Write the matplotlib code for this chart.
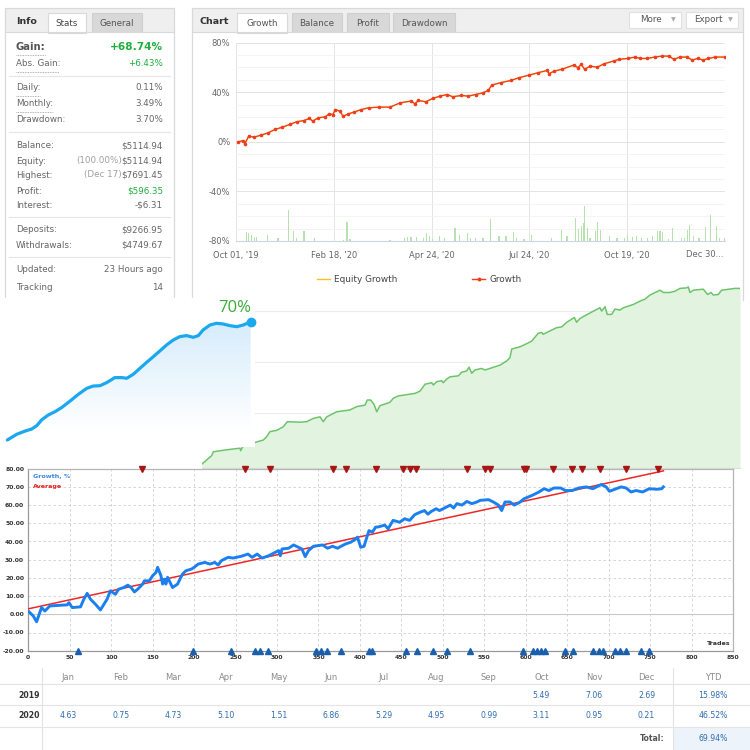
import numpy as np
import matplotlib
matplotlib.use("Agg")
import matplotlib.pyplot as plt
from matplotlib.patches import Rectangle, Polygon
from matplotlib.lines import Line2D
from matplotlib.ticker import FuncFormatter, MultipleLocator

# ---------------- data ----------------
info_labels = ["Gain:", "Abs. Gain:", "Daily:", "Monthly:", "Drawdown:", "Balance:", "Equity:",
               "Highest:", "Profit:", "Interest:", "Deposits:", "Withdrawals:", "Updated:", "Tracking"]
info_values = ["+68.74%", "+6.43%", "0.11%", "3.49%", "3.70%", "$5114.94", "$5114.94",
               "$7691.45", "$596.35", "-$6.31", "$9266.95", "$4749.67", "23 Hours ago", "14"]
info_notes = {"Equity:": "(100.00%)", "Highest:": "(Dec 17)"}
info_green = ["Gain:", "Abs. Gain:", "Profit:"]

chart_tabs = ["Growth", "Balance", "Profit", "Drawdown"]
date_labels = ["Oct 01, '19", "Feb 18, '20", "Apr 24, '20", "Jul 24, '20", "Oct 19, '20", "Dec 30..."]

# top chart growth series: position (fraction of the date axis) and growth %
growth_frac = [0.004, 0.015, 0.018, 0.026, 0.037, 0.051, 0.066, 0.08, 0.095, 0.11, 0.124, 0.139, 0.15,
               0.157, 0.168, 0.183, 0.19, 0.198, 0.203, 0.212, 0.219, 0.23, 0.241, 0.256, 0.271, 0.293,
               0.315, 0.336, 0.358, 0.366, 0.373, 0.388, 0.402, 0.417, 0.432, 0.443, 0.461, 0.475, 0.49,
               0.505, 0.516, 0.523, 0.541, 0.563, 0.578, 0.6, 0.618, 0.636, 0.64, 0.651, 0.666, 0.691,
               0.699, 0.706, 0.713, 0.724, 0.739, 0.753, 0.772, 0.783, 0.801, 0.816, 0.827, 0.841, 0.856,
               0.871, 0.885, 0.896, 0.907, 0.922, 0.933, 0.944, 0.955, 0.966, 0.98, 0.999]
growth_vals = [0, 1, -1.6, 4.6, 3.8, 5.4, 7.3, 10, 11.9, 14, 16.2, 17.2, 18.9, 16.7, 19.4, 20.2, 22.6, 22,
               26, 24.8, 20.7, 22.6, 24, 26, 27.5, 28, 28, 31.5, 32.9, 30.7, 33.4, 32.3, 35, 36.9, 38.2,
               36.4, 37.4, 36.9, 38.2, 39.6, 41.5, 45.8, 47.7, 49.6, 51.7, 53.9, 55.8, 57.6, 55, 57.1,
               58.5, 62, 59.8, 62.5, 58.5, 61.1, 60.3, 63, 65.2, 66.5, 67.3, 68.4, 67.3, 67.3, 68.4, 69.2,
               69.2, 66.5, 68.4, 68.4, 66, 67.3, 66, 67.3, 68.4, 68.4]
bar_frac = [0.022, 0.026, 0.031, 0.037, 0.042, 0.064, 0.086, 0.107, 0.117, 0.123, 0.139, 0.161, 0.219,
            0.227, 0.233, 0.315, 0.344, 0.35, 0.358, 0.369, 0.384, 0.389, 0.395, 0.402, 0.417, 0.426,
            0.448, 0.457, 0.474, 0.479, 0.49, 0.505, 0.521, 0.538, 0.552, 0.567, 0.574, 0.589, 0.604,
            0.645, 0.666, 0.677, 0.694, 0.701, 0.706, 0.71, 0.713, 0.718, 0.724, 0.735, 0.74, 0.746,
            0.764, 0.779, 0.794, 0.801, 0.811, 0.819, 0.83, 0.841, 0.852, 0.862, 0.867, 0.872, 0.885,
            0.892, 0.911, 0.918, 0.923, 0.928, 0.936, 0.947, 0.96, 0.971, 0.982, 0.988, 0.999]
bar_vals = [6.9, 6.1, 5.0, 3.3, 3.3, 4.7, 2.8, 25.4, 7.7, 2.8, 8.3, 2.2, 0.8, 15.7, 1.4, 0.6, 2.8, 3.3,
            3.3, 3.3, 2.2, 6.1, 4.1, 1.4, 4.1, 2.2, 10.5, 4.7, 6.6, 2.2, 2.5, 2.8, 17.7, 4.1, 3.9, 7.4,
            2.8, 1.4, 4.7, 2.8, 8.8, 4.1, 18.8, 9.7, 12.4, 14.3, 28.1, 10.5, 2.2, 8.3, 15.4, 8.8, 4.1,
            2.8, 2.8, 5.0, 3.6, 4.1, 2.8, 2.2, 4.1, 7.7, 7.7, 7.4, 1.9, 10.5, 2.2, 2.8, 8.8, 13.2, 4.1,
            2.8, 11.0, 21.2, 12.1, 2.8, 2.2]

# mini blue growth widget
mini_t = [0, 3.9, 7.3, 10.0, 12.1, 14.1, 16.8, 19.6, 22.3, 25.8, 29.2, 32.6, 35.3, 38.1, 40.8, 44.2,
          47.0, 49.1, 51.8, 54.5, 57.3, 60.0, 62.7, 65.5, 68.2, 70.9, 73.7, 76.4, 78.5, 80.5, 83.3,
          86.0, 88.7, 91.5, 94.3, 97.0, 100]
mini_vals = [0, 3.4, 5.3, 6.5, 8.5, 11.9, 14.8, 16.8, 19.2, 23.1, 27.1, 30.6, 32, 32.2, 34, 37, 37,
             36.6, 39, 42.5, 46.1, 49.4, 52.8, 56.4, 59.3, 61.3, 61.9, 60.9, 61.9, 65.3, 68.2, 69.2,
             68.8, 67.8, 67.2, 68.2, 70.2]
mini_label = "70%"

# green area widget
green_days = [0, 8.3, 9.7, 15.4, 26.8, 32.5, 33.1, 34.8, 42.5, 52.4,
              55.3, 58.1, 63.9, 69.5, 72.9, 83.8, 89.5, 95.2, 100.9, 103.7,
              106.6, 115.2, 126.5, 132.2, 139.4, 141.3, 144.2, 147.1, 149.4, 152.2,
              160.7, 163.6, 167.8, 182.1, 186.4, 190.7, 196.4, 197.8, 200.7, 204.9,
              206.3, 209.2, 212, 219.2, 222, 226.3, 228.3, 230.6, 233.4, 239.1,
              242, 246.2, 254.8, 260.5, 263.3, 264.8, 271.9, 276.2, 281.9, 287.5,
              290.4, 291.8, 296.1, 303.3, 307.6, 311.8, 318.4, 320.3, 323.2, 327.5,
              336, 340.3, 341.7, 344.6, 346.5, 350.3, 353.1, 357.4, 360.2, 368.8,
              375.9, 378.8, 383, 391.6, 394.4, 400.1, 404.4, 408.7, 414.4, 415.8,
              417.2, 420.1, 428.6, 432.4, 435.2, 437.2, 441.4, 444.3, 455.7, 460]
green_vals = [0, 3.3, 4.8, 5.2, 5.9, 6.2, 5.2, 6.8, 8.1, 9.4,
              10.7, 12.7, 13.2, 14.6, 16.6, 16.4, 16.6, 17.9, 18.5, 16.6,
              18.5, 20.5, 21.2, 22.5, 23.1, 25.1, 25.1, 23.4, 20.5, 22.9,
              24.2, 25.8, 26.7, 27.7, 28.6, 31.3, 31.9, 31, 32.3, 32.7,
              31.9, 33.3, 34.2, 34.6, 36, 36.5, 38, 35.6, 36.9, 37.5,
              36.9, 37.5, 38.8, 40.4, 41.7, 45.1, 46, 46.9, 48.2, 51.3,
              51.6, 50.9, 51.9, 53.5, 53.8, 55.6, 57.5, 55.6, 57.1, 58.2,
              60.3, 61.3, 60, 61.7, 58.7, 58.7, 60.8, 60.4, 61.3, 62.6,
              64.2, 64.7, 66.3, 68.2, 67.3, 67.3, 67.8, 68.9, 69.1, 69.5,
              67.3, 68.2, 68.6, 66.5, 67.3, 66.3, 66.5, 68.2, 68.9, 68.9]

# trades chart
trade_no = [1, 6, 10, 16, 20, 26, 47, 49, 53, 63, 67, 71, 75, 81, 87, 95, 99, 105, 109, 115, 120, 124,
            128, 132, 138, 140, 146, 150, 154, 156, 160, 162, 164, 166, 168, 170, 174, 180, 186, 190,
            197, 200, 205, 213, 219, 225, 229, 233, 241, 247, 257, 265, 270, 276, 282, 290, 298, 302,
            304, 306, 314, 320, 326, 330, 334, 338, 344, 355, 361, 367, 373, 379, 383, 389, 395, 397,
            401, 405, 409, 411, 415, 419, 422, 430, 434, 440, 448, 454, 460, 466, 472, 478, 482, 486,
            492, 496, 502, 509, 513, 517, 523, 529, 535, 541, 545, 555, 561, 567, 571, 575, 581, 586,
            592, 598, 608, 616, 622, 628, 634, 642, 648, 656, 664, 673, 681, 691, 697, 701, 709, 715,
            721, 727, 733, 741, 749, 758, 764, 766]
trade_growth = [1.3, -0.9, -4.1, 3.7, 1.8, 4.6, 5.2, 6.4, 3.7, 4.1, 8.3, 11.5, 8.3, 5.5, 2.4, 8.3, 12.9,
                11, 13.8, 14.7, 16, 14.7, 12.3, 13.8, 16.6, 18.4, 18.4, 21.2, 23, 25.8, 21.2, 16.6,
                19.3, 16.6, 20.3, 18.4, 14.7, 16.6, 22.1, 23.9, 24.9, 25.8, 27.6, 28.5, 27.6, 28.5,
                27.1, 29.5, 31.3, 30.9, 31.9, 33.1, 31.3, 33.1, 30.9, 32.2, 34.1, 35, 32.2, 35.9, 36.3,
                38.1, 36.8, 35.9, 31.7, 35, 37.4, 38.1, 36.3, 37.4, 36.3, 37.8, 38.7, 39.6, 41.4, 42.4,
                36.8, 37.4, 43.3, 46, 45.1, 47.9, 48, 49, 47, 51.6, 50.6, 52.5, 51.6, 54.7, 56, 57, 55,
                56.5, 58, 57, 58.4, 60, 58.4, 60.8, 60, 62, 60.8, 61.7, 62.6, 63, 61.7, 60, 57, 61.7,
                61.7, 60, 61.3, 63.5, 65.4, 67.2, 69, 68, 69.4, 69.4, 68, 68, 69.4, 70, 69, 71.3, 70,
                67.6, 69, 70, 69.4, 67.2, 68, 67.2, 69, 68.7, 69, 70]
average_trades = [0, 766]
average_vals = [3.0, 78.8]
sell_marks = [137, 261, 292, 368, 383, 419, 452, 460, 468, 529, 551, 557, 598, 600, 633, 656, 668,
              690, 721, 759]
buy_marks = [60, 199, 244, 273, 280, 289, 347, 353, 360, 377, 411, 414, 456, 469, 488, 505, 533, 597,
             609, 614, 619, 623, 647, 657, 681, 688, 693, 708, 714, 721, 739, 749]

# monthly table
months = ["Jan", "Feb", "Mar", "Apr", "May", "Jun", "Jul", "Aug", "Sep", "Oct", "Nov", "Dec"]
ret_2019 = [None] * 9 + [5.49, 7.06, 2.69]
ret_2020 = [4.63, 0.75, 4.73, 5.10, 1.51, 6.86, 5.29, 4.95, 0.99, 3.11, 0.95, 0.21]
ytd = {"2019": 15.98, "2020": 46.52}
total = 69.94

# ---------------- helpers ----------------
W = H = 750
plt.rcParams["font.family"] = ["DejaVu Sans"]
fig = plt.figure(figsize=(7.5, 7.5), dpi=100)
fig.patch.set_facecolor("white")


def T(x, y, s, **kw):
    kw.setdefault("va", "center")
    kw.setdefault("zorder", 3)
    return fig.text(x / W, 1 - y / H, s, **kw)


def R(x0, y0, x1, y1, fc="none", ec="none", lw=0.8, z=1):
    fig.add_artist(Rectangle((x0 / W, 1 - y1 / H), (x1 - x0) / W, (y1 - y0) / H,
                             transform=fig.transFigure, fc=fc, ec=ec, lw=lw, zorder=z))


def L(xs, ys, color, lw=0.8, z=2, ls="-"):
    fig.add_artist(Line2D([x / W for x in xs], [1 - y / H for y in ys], color=color, lw=lw,
                          zorder=z, ls=ls, transform=fig.transFigure))


def AX(x0, y0, x1, y1, z):
    return fig.add_axes([x0 / W, 1 - y1 / H, (x1 - x0) / W, (y1 - y0) / H], zorder=z)


BORDER = "#d9d9d9"
GRAY = "#666666"
GREEN = "#1fae3c"
FS = 6.3

# ---------------- info panel ----------------
R(5, 8, 174, 32, fc="#efefef", z=1)
L([5, 5, 174, 174], [300, 8, 8, 300], BORDER, lw=0.9, z=2)
L([5, 174], [32, 32], BORDER, z=2)
R(48, 13, 86, 32.5, fc="white", ec=BORDER, z=1.5)
R(92, 13, 142, 32, fc="#d8d8d8", ec="#cfcfcf", z=1.5)
T(16, 21, "Info", fontsize=6.8, fontweight="bold", color="#333333")
T(67, 23, "Stats", fontsize=FS, color="#444444", ha="center")
T(117, 23, "General", fontsize=FS, color="#555555", ha="center")

row_y = [47.5, 64, 88, 104, 120, 146, 161, 175, 191, 205, 230, 245, 269, 288]
underline = {"Gain:": 46, "Abs. Gain:": 59, "Daily:": 40, "Monthly:": 53}
for lab, val, y in zip(info_labels, info_values, row_y):
    big = lab == "Gain:"
    T(16, y, lab, fontsize=7.2 if big else FS, fontweight="bold" if big else "normal",
      color="#555555" if big else GRAY)
    T(163, y, val, fontsize=7.6 if big else FS, fontweight="bold" if big else "normal",
      color=GREEN if lab in info_green else GRAY, ha="right")
    if lab in info_notes:
        T(122, y, info_notes[lab], fontsize=FS, color="#a0a0a0", ha="right")
    if lab in underline:
        L([16, underline[lab]], [y + 7.5, y + 7.5], "#9a9a9a", lw=0.6, ls=(0, (1, 1)))
for ys in [76, 132, 217, 257]:
    L([9, 170], [ys, ys], "#e6e6e6", lw=0.8)

# ---------------- chart panel ----------------
R(192, 8, 743, 32, fc="#efefef", z=1)
L([192, 192, 743, 743], [300, 8, 8, 300], BORDER, lw=0.9, z=2)
L([192, 743], [32, 32], BORDER, z=2)
T(200, 21, "Chart", fontsize=6.8, fontweight="bold", color="#333333")
tab_x = [(237, 287), (292, 342), (347, 389), (393, 455)]
for (a, b), name in zip(tab_x, chart_tabs):
    if name == "Growth":
        R(a, 13, b, 32.5, fc="white", ec=BORDER, z=1.5)
    else:
        R(a, 13, b, 32, fc="#d8d8d8", ec="#cfcfcf", z=1.5)
    T((a + b) / 2, 23, name, fontsize=FS, color="#555555", ha="center")
for (a, b), name in [((629, 681), "More"), ((686, 738), "Export")]:
    R(a, 12.5, b, 27.5, fc="white", ec="#e0e0e0", z=1.5)
    T(a + 22, 20, name, fontsize=FS, color="#555555", ha="center")
    T(b - 8, 20, "\u25BC", fontsize=4.5, color="#aaaaaa", ha="center")

ax1 = AX(236, 42.7, 725, 241, z=2)
ax1.set_xlim(0, 5)
ax1.set_ylim(-80, 80)
ax1.set_facecolor("white")
for s in ["top", "right", "left"]:
    ax1.spines[s].set_visible(False)
ax1.spines["bottom"].set_color("#c9d8e8")
ax1.set_yticks([-80, -40, 0, 40, 80])
ax1.yaxis.set_minor_locator(MultipleLocator(10))
ax1.yaxis.set_major_formatter(FuncFormatter(lambda v, p: f"{int(v)}%"))
ax1.set_xticks(range(6))
ax1.set_xticklabels(date_labels[:5] + [""])
ax1.tick_params(length=0, labelsize=6, labelcolor="#666666", pad=4)
ax1.tick_params(axis="x", pad=7)
ax1.tick_params(which="minor", length=0)
ax1.grid(True, which="major", color="#e4e4e4", lw=0.7)
ax1.grid(True, which="minor", axis="y", color="#f3f3f3", lw=0.6)
ax1.set_axisbelow(True)
ax1.text(4.98, -87, date_labels[5], ha="right", va="top", fontsize=6, color="#666666")
bpos = [f * 5 for f in bar_frac]
ax1.bar(bpos, bar_vals, bottom=-80, width=0.012, color="#b6e2ad", zorder=2)
gpos = [f * 5 for f in growth_frac]
ax1.plot(gpos, growth_vals, color="#f5c21b", lw=1.0, zorder=3)
ax1.plot(gpos, growth_vals, color="#ef3e1e", lw=0.9, marker="o", ms=1.6, zorder=4)

# legend
L([317, 330], [279, 279], "#f5c21b", lw=1.0, z=3)
T(334, 279, "Equity Growth", fontsize=6.4, color="#444444")
L([472, 485], [279, 279], "#ef3e1e", lw=1.0, z=3)
fig.add_artist(Line2D([478.5 / W], [1 - 279 / H], marker="o", ms=1.8, color="#ef3e1e",
                      transform=fig.transFigure, zorder=3))
T(489, 279, "Growth", fontsize=6.4, color="#444444")

# ---------------- green area widget ----------------
axg = AX(202, 280, 740, 468, z=6)
axg.set_facecolor("none")
axg.set_xlim(0, 460)
axg.set_ylim(-1.57, 72.2)
for s in ["top", "right", "left"]:
    axg.spines[s].set_visible(False)
axg.spines["bottom"].set_color("#dddddd")
axg.set_xticks([])
axg.set_yticks([20, 40, 60])
axg.tick_params(length=0, labelleft=False)
axg.grid(True, axis="y", color="#ececec", lw=0.8)
axg.set_axisbelow(True)
axg.fill_between(green_days, green_vals, -1.57, color="#e2f3df", lw=0, zorder=2)
axg.plot(green_days, green_vals, color="#6cc46a", lw=1.1, zorder=3)

# ---------------- mini blue widget ----------------
axm = AX(0, 298, 255, 447, z=7)
axm.set_facecolor("white")
for s in axm.spines.values():
    s.set_visible(False)
axm.set_xticks([])
axm.set_yticks([])
ymin = -4.15
verts = [(mini_t[0], ymin)] + list(zip(mini_t, mini_vals)) + [(mini_t[-1], ymin)]
poly = Polygon(verts, closed=True, fc="none", ec="none")
axm.add_patch(poly)
n = 256
grad = np.ones((n, 1, 4))
top = np.array([0.84, 0.925, 0.985])
for i in range(n):
    a = min(1.0, (i / (n - 1)) * 1.15)
    grad[i, 0, :3] = top * (1 - a) + np.array([1, 1, 1]) * a
img = axm.imshow(grad, extent=[mini_t[0], mini_t[-1], ymin, max(mini_vals)], aspect="auto",
                 origin="upper", zorder=1, interpolation="bilinear")
img.set_clip_path(poly)
axm.plot(mini_t, mini_vals, color="#1aa8ee", lw=2.3, solid_capstyle="round",
         solid_joinstyle="round", zorder=3)
axm.plot([mini_t[-1]], [mini_vals[-1]], "o", color="#1aa8ee", ms=6, zorder=4, clip_on=False)
axm.set_xlim(-3.0, 101.8)
axm.set_ylim(-4.15, 84.2)
T(235, 308, mini_label, fontsize=12, color="#3aab36", ha="center", family="Open Sans", zorder=9)

# ---------------- trades chart ----------------
axb = AX(28.3, 468.7, 733, 650.7, z=8)
axb.set_facecolor("white")
axb.set_xlim(0, 850)
axb.set_ylim(-20, 80)
for s in axb.spines.values():
    s.set_color("#b5b5b5")
    s.set_linewidth(0.9)
axb.spines["left"].set_color("#999999")
axb.spines["bottom"].set_color("#999999")
axb.set_xticks(range(0, 851, 50))
axb.set_yticks(range(-20, 81, 10))
axb.yaxis.set_major_formatter(FuncFormatter(lambda v, p: f"{v:.2f}"))
axb.tick_params(length=0, labelsize=4.4, labelcolor="#333333", pad=3)
for lab in axb.get_xticklabels() + axb.get_yticklabels():
    lab.set_fontweight("bold")
axb.grid(True, color="#cfcfcf", lw=0.6, ls=(0, (3, 3)))
axb.axhline(0, color="#c8c8c8", lw=0.8, zorder=1)
axb.set_axisbelow(True)
axb.plot(average_trades, average_vals, color="#f02525", lw=1.1, zorder=3)
axb.plot(trade_no, trade_growth, color="#1a7ff0", lw=2.1, zorder=4, solid_joinstyle="round")
axb.plot(sell_marks, [80] * len(sell_marks), "v", color="#a81515", ms=4.2, clip_on=False, zorder=5)
axb.plot(buy_marks, [-20] * len(buy_marks), "^", color="#1a5fae", ms=4.2, clip_on=False, zorder=5)
axb.text(0.007, 0.955, "Growth, %", transform=axb.transAxes, fontsize=4.6, color="#3c86e0",
         fontweight="bold", va="center")
axb.text(0.007, 0.9, "Average", transform=axb.transAxes, fontsize=4.6, color="#e82020",
         fontweight="bold", va="center")
axb.text(0.997, 0.04, "Trades", transform=axb.transAxes, fontsize=4.6, color="#333333",
         fontweight="bold", ha="right", va="center")

# ---------------- monthly table ----------------
col_x = [68 + 52.6 * i for i in range(12)]
ytd_x = 713
L([42, 42], [668, 750], "#e2e2e2", lw=0.8)
L([673, 673], [668, 750], "#e2e2e2", lw=0.8)
for yy in [684, 705, 727]:
    L([0, 750], [yy, yy], "#e4e4e4", lw=0.8)
R(673.5, 727.5, 750, 750, fc="#edf3fa", z=1)
for m, x in zip(months, col_x):
    T(x, 677, m, fontsize=6, color="#8a8a8a", ha="center")
T(ytd_x, 677, "YTD", fontsize=6, color="#8a8a8a", ha="center")
VAL = "#2f6cb3"
for yr, vals, y in [("2019", ret_2019, 695), ("2020", ret_2020, 716)]:
    T(29, y, yr, fontsize=5.6, fontweight="bold", color="#333333", ha="center")
    for v, x in zip(vals, col_x):
        if v is not None:
            T(x, y, f"{v:.2f}", fontsize=5.6, color=VAL, ha="center")
    T(ytd_x, y, f"{ytd[yr]:.2f}%", fontsize=5.6, color=VAL, ha="center")
T(665, 738.5, "Total:", fontsize=5.6, fontweight="bold", color="#555555", ha="right")
T(ytd_x, 738.5, f"{total:.2f}%", fontsize=5.6, color=VAL, ha="center")

fig.savefig("out.png", dpi=100, facecolor="white")
